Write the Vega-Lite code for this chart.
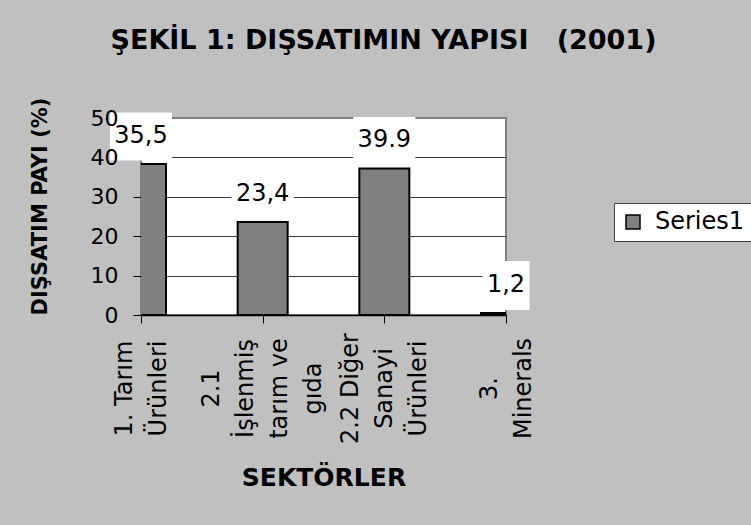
{
  "$schema": "https://vega.github.io/schema/vega-lite/v6.json",
  "width": 365,
  "height": 197,
  "autosize": "none",
  "padding": {"left": 141, "top": 118, "right": 245, "bottom": 210},
  "background": "#c0c0c0",
  "title": {
    "text": "ŞEKİL 1: DIŞSATIMIN YAPISI\u00a0\u00a0\u00a0(2001)",
    "font": "DejaVu Sans",
    "fontSize": 27,
    "fontWeight": "bold",
    "color": "black",
    "anchor": "middle",
    "frame": "group",
    "dx": 60,
    "offset": 42
  },
  "config": {
    "view": {"stroke": "#808080", "strokeWidth": 2, "fill": "white"},
    "font": "DejaVu Sans"
  },
  "data": {
    "values": [
      {"sektor": "1. Tarım Ürünleri", "pay": 38.3, "label": "35,5", "series": "Series1"},
      {"sektor": "2.1 İşlenmiş tarım ve gıda", "pay": 23.6, "label": "23,4", "series": "Series1"},
      {"sektor": "2.2 Diğer Sanayi Ürünleri", "pay": 37.2, "label": "39.9", "series": "Series1"},
      {"sektor": "3. Minerals", "pay": 0.5, "label": "1,2", "series": "Series1"}
    ]
  },
  "encoding": {
    "x": {
      "field": "sektor",
      "type": "ordinal",
      "sort": null,
      "scale": {"type": "point", "padding": 0},
      "axis": {
        "title": "SEKTÖRLER",
        "titleFont": "DejaVu Sans",
        "titleFontSize": 25,
        "titleFontWeight": "bold",
        "titleColor": "black",
        "titleY": 170,
        "titleBaseline": "alphabetic",
        "domainColor": "black",
        "domainWidth": 1.5,
        "tickColor": "black",
        "tickSize": 8,
        "tickWidth": 1,
        "labelFont": "DejaVu Sans",
        "labelFontSize": 24,
        "labelColor": "black",
        "labelAngle": 270,
        "labelAlign": "center",
        "labelBaseline": "middle",
        "labelPadding": 65,
        "labelLineHeight": 34,
        "labelOffset": {
          "condition": [
            {"test": "datum.value == '2.1 İşlenmiş tarım ve gıda'", "value": -51},
            {"test": "datum.value == '2.2 Diğer Sanayi Ürünleri'", "value": -34}
          ],
          "value": -17
        },
        "labelOverlap": false,
        "labelFlush": false,
        "labelBound": false,
        "zindex": 1,
        "labelExpr": "datum.value == '1. Tarım Ürünleri' ? ['1. Tarım', 'Ürünleri'] : datum.value == '2.1 İşlenmiş tarım ve gıda' ? ['2.1', 'İşlenmiş', 'tarım ve', 'gıda'] : datum.value == '2.2 Diğer Sanayi Ürünleri' ? ['2.2 Diğer', 'Sanayi', 'Ürünleri'] : ['3.', 'Minerals']"
      }
    }
  },
  "layer": [
    {
      "mark": {"type": "bar", "width": 50, "clip": true, "stroke": "black", "strokeWidth": 2},
      "encoding": {
        "y": {
          "field": "pay",
          "type": "quantitative",
          "scale": {"domain": [0, 50], "nice": false},
          "axis": {
            "orient": "left",
            "values": [0, 10, 20, 30, 40, 50],
            "title": null,
            "labels": false,
            "domain": false,
            "ticks": true,
            "tickSize": 8,
            "tickColor": "black",
            "grid": true,
            "gridColor": {"condition": {"test": "datum.value >= 50", "value": "#808080"}, "value": "#3c3c3c"},
            "gridWidth": 1,
            "zindex": 0
          }
        },
        "color": {
          "field": "series",
          "type": "nominal",
          "scale": {"range": ["#808080"]},
          "legend": {
            "title": null,
            "orient": "none",
            "legendX": 473,
            "legendY": 85,
            "fillColor": "white",
            "strokeColor": "#404040",
            "padding": 7,
            "symbolType": "square",
            "symbolSize": 196,
            "symbolStrokeColor": "black",
            "symbolStrokeWidth": 1.5,
            "symbolFillColor": "#808080",
            "labelFont": "DejaVu Sans",
            "labelFontSize": 24,
            "labelColor": "black",
            "labelOffset": 10
          }
        }
      }
    },
    {
      "mark": {
        "type": "point",
        "filled": true,
        "fill": "white",
        "opacity": 1,
        "strokeWidth": 0,
        "size": 3844,
        "yOffset": -27.5
      },
      "encoding": {
        "y": {
          "field": "pay",
          "type": "quantitative",
          "axis": {
            "orient": "left",
            "values": [0, 10, 20, 30, 40, 50],
            "title": "DIŞSATIM PAYI (%)",
            "titleFont": "DejaVu Sans",
            "titleFontSize": 21,
            "titleFontWeight": "bold",
            "titleColor": "black",
            "titleAngle": 270,
            "titleAlign": "center",
            "titleBaseline": "middle",
            "titleX": -101,
            "titleY": 88,
            "labels": true,
            "labelFont": "DejaVu Sans",
            "labelFontSize": 22,
            "labelColor": "black",
            "labelPadding": 23,
            "labelBaseline": "middle",
            "labelFlush": false,
            "labelOverlap": false,
            "ticks": false,
            "tickSize": 0,
            "domain": false,
            "grid": false,
            "zindex": 1
          }
        },
        "shape": {
          "condition": {"test": "length(datum.label) < 4", "value": "M-0.758,-0.79L0.758,-0.79L0.758,0.79L-0.758,0.79Z"},
          "value": "M-1,-0.774L1,-0.774L1,0.774L-1,0.774Z"
        }
      }
    },
    {
      "mark": {
        "type": "text",
        "font": "DejaVu Sans",
        "fontSize": 24,
        "color": "black",
        "baseline": "middle",
        "align": "center",
        "yOffset": -28.5
      },
      "encoding": {
        "y": {"field": "pay", "type": "quantitative", "axis": null},
        "text": {"field": "label"}
      }
    }
  ],
  "resolve": {"axis": {"y": "independent"}}
}
